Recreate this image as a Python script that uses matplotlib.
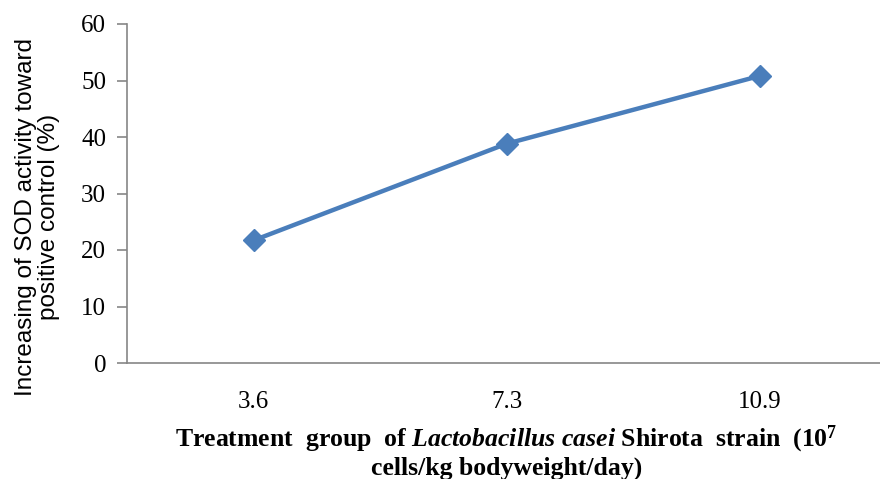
import matplotlib
matplotlib.use('Agg')
import matplotlib.pyplot as plt

# data
doses = ['3.6', '7.3', '10.9']
sod_increase = [21.7, 38.8, 50.8]

plt.rcParams['mathtext.fontset'] = 'custom'
plt.rcParams['mathtext.rm'] = 'Liberation Serif:bold'
plt.rcParams['mathtext.it'] = 'Liberation Serif:bold:italic'
plt.rcParams['mathtext.bf'] = 'Liberation Serif:bold'

fig = plt.figure(figsize=(8.8, 4.79), dpi=100)
ax = fig.add_axes([127/880, 1-363/479, 759/880, 339/479])

x = list(range(len(doses)))
ax.plot(x, sod_increase, color='#4a7ebb', lw=3.2, marker='D', ms=11,
        markerfacecolor='#4a7ebb', markeredgecolor='#4a7ebb')

ax.set_xlim(-0.5, len(doses)-0.5)
ax.set_ylim(0, 60)
ax.set_yticks(range(0, 61, 10))
ax.set_xticks(x)
ax.set_xticklabels(doses)

for s in ['top', 'right']:
    ax.spines[s].set_visible(False)
for s in ['left', 'bottom']:
    ax.spines[s].set_color('#868686')
    ax.spines[s].set_linewidth(1.2)

ax.tick_params(axis='y', length=7, width=1.2, color='#868686', pad=8)
ax.tick_params(axis='x', length=0, pad=20)
for lab in ax.get_xticklabels() + ax.get_yticklabels():
    lab.set_family('Liberation Serif')
    lab.set_fontsize(18)

ax.set_ylabel('Increasing of SOD activity toward\npositive control (%)',
              family='Liberation Sans', fontsize=17.5, linespacing=1.05)
ax.yaxis.set_label_coords(-0.088, 0.43)

xl = r'Treatment  group  of $\mathit{Lactobacillus\ casei}$ Shirota  strain  (10$^7$' + '\n' + \
     r'cells/kg bodyweight/day)'
ax.set_xlabel(xl, family='Liberation Serif', fontweight='bold', fontsize=18.5,
              linespacing=1.1, labelpad=8)

fig.savefig('out.png', dpi=100)
